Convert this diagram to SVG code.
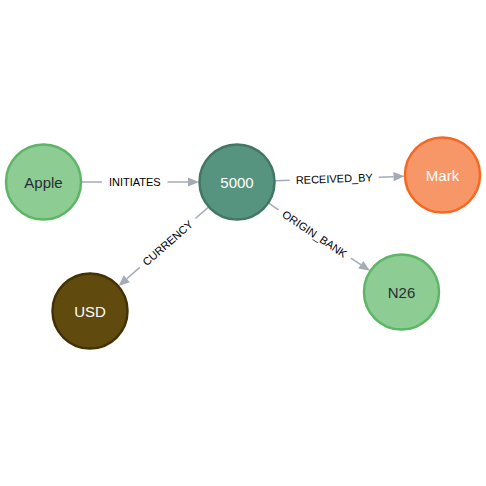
<svg xmlns="http://www.w3.org/2000/svg" width="486" height="486" viewBox="0 0 486 486">
<style>
.shaft{stroke:#A5ABB6;stroke-width:1.5;fill:none}
.head{fill:#A5ABB6}
.elabel{font-family:"Liberation Sans",Arial,sans-serif;font-size:11px;fill:#000;text-anchor:middle}
.nlabel{font-family:"Liberation Sans",Arial,sans-serif;font-size:15px;text-anchor:middle}
.green{fill:#8DCC93;stroke:#5DB665;stroke-width:2.5}
.teal{fill:#569480;stroke:#447666;stroke-width:2.5}
.orange{fill:#F79767;stroke:#F36924;stroke-width:2.5}
.brown{fill:#604A0E;stroke:#423204;stroke-width:2.5}
.dark{fill:#2A2C34}
.light{fill:#FFFFFF}
</style>
<rect width="486" height="486" fill="#FFFFFF"/>
<g id="connectors">
  <g id="e-initiates" transform="translate(81.5,182)">
    <path class="shaft" d="M0,0 H20.5 M86,0 H106.5"/>
    <polygon class="head" points="117.5,0 106.5,-4.6 106.5,4.6"/>
    <text class="elabel" x="53.25" y="4">INITIATES</text>
  </g>
  <g id="e-received" transform="translate(275,180.7) rotate(-1.95)">
    <path class="shaft" d="M0,0 H14.8 M103.8,0 H118.6"/>
    <polygon class="head" points="129.6,0 118.6,-4.6 118.6,4.6"/>
    <text class="elabel" x="59.3" y="4">RECEIVED_BY</text>
  </g>
  <g id="e-currency" transform="translate(208.4,207.1) rotate(138.73)">
    <path class="shaft" d="M0,0 H17.3 M91.3,0 H108.6"/>
    <polygon class="head" points="119.6,0 108.6,-4.6 108.6,4.6"/>
    <text class="elabel" x="54.3" y="4" transform="rotate(180 54.3 0)">CURRENCY</text>
  </g>
  <g id="e-origin" transform="translate(268.6,203.1) rotate(33.77)">
    <path class="shaft" d="M0,0 H12 M99,0 H110.9"/>
    <polygon class="head" points="121.9,0 110.9,-4.6 110.9,4.6"/>
    <text class="elabel" x="55.45" y="4">ORIGIN_BANK</text>
  </g>
</g>
<g id="node-apple">
  <circle class="green" cx="43.5" cy="182" r="37.5"/>
  <text class="nlabel dark" x="43.5" y="187.5">Apple</text>
</g>
<g id="node-5000">
  <circle class="teal" cx="237" cy="182" r="37.5"/>
  <text class="nlabel light" x="237" y="187.5">5000</text>
</g>
<g id="node-mark">
  <circle class="orange" cx="442.5" cy="175" r="37.5"/>
  <text class="nlabel light" x="442.5" y="180.5">Mark</text>
</g>
<g id="node-usd">
  <circle class="brown" cx="90" cy="311" r="37.5"/>
  <text class="nlabel light" x="90" y="316.5">USD</text>
</g>
<g id="node-n26">
  <circle class="green" cx="401.5" cy="292" r="37.5"/>
  <text class="nlabel dark" x="401.5" y="297.5">N26</text>
</g>
</svg>
